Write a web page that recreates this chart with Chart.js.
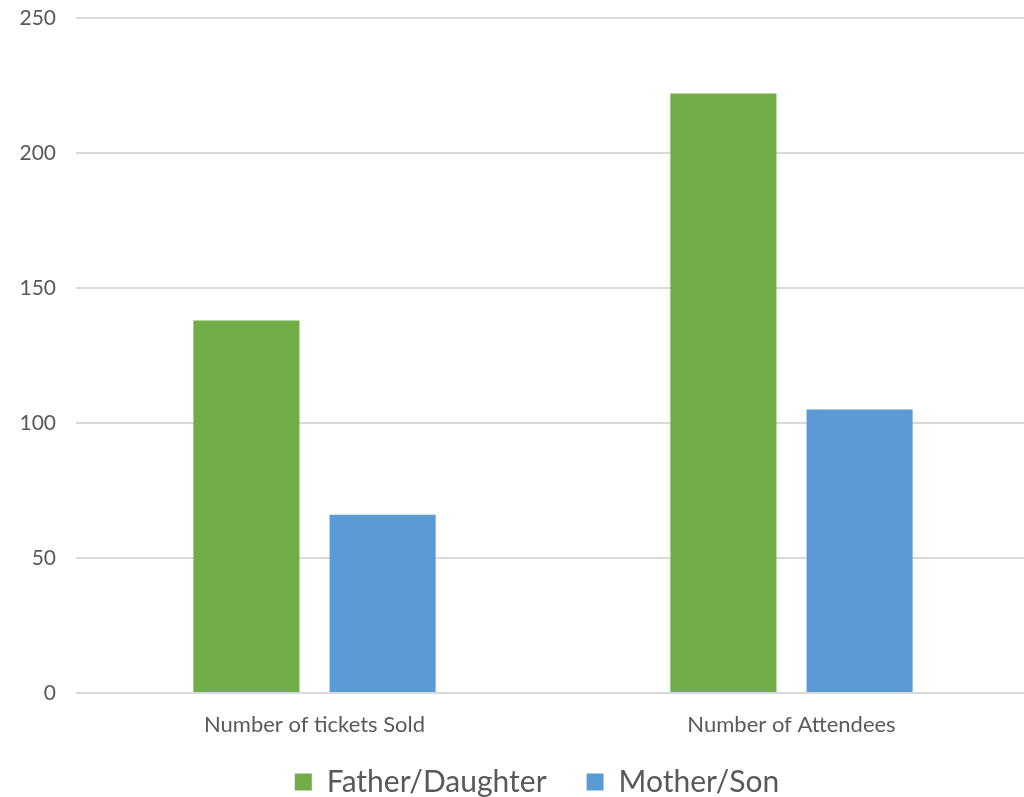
<!DOCTYPE html>
<html>
<head>
<meta charset="utf-8">
<script src="https://cdn.jsdelivr.net/npm/chart.js@4/dist/chart.umd.min.js"></script>
<style>
  html, body { margin: 0; padding: 0; background: #ffffff; overflow: hidden; }
  #wrap { position: relative; width: 1030px; height: 797px; }
</style>
</head>
<body>
<div id="wrap"><canvas id="chart"></canvas></div>
<script>
const categories = ['Number of tickets Sold', 'Number of Attendees'];
const fatherDaughter = [138, 222];
const motherSon = [66, 105];
const yTicks = [0, 50, 100, 150, 200, 250];

const FONT = "Lato, 'Open Sans', sans-serif";
const TEXT = '#595959';

// Nudge the legend block slightly right and up from its default slot.
const legendOffset = {
  id: 'legendOffset',
  afterLayout(chart) {
    const lg = chart.legend;
    if (!lg) return;
    lg.left += 22; lg.right += 22;
    lg.top -= 11; lg.bottom -= 11;
  }
};

new Chart(document.getElementById('chart'), {
  type: 'bar',
  data: {
    labels: categories,
    datasets: [
      { label: 'Father/Daughter', data: fatherDaughter, backgroundColor: '#70AD47' },
      { label: 'Mother/Son', data: motherSon, backgroundColor: '#5B9BD5' }
    ]
  },
  plugins: [legendOffset],
  options: {
    responsive: true,
    maintainAspectRatio: false,
    animation: false,
    layout: { padding: { top: 18, left: 0, right: 0, bottom: -21 } },
    categoryPercentage: 0.571,
    barPercentage: 0.779,
    plugins: {
      tooltip: { enabled: false },
      legend: {
        position: 'bottom',
        labels: {
          font: { family: FONT, size: 30 },
          color: TEXT,
          boxWidth: 17,
          boxHeight: 17,
          padding: 40
        }
      }
    },
    scales: {
      x: {
        grid: { display: false },
        border: { display: false },
        ticks: { font: { family: FONT, size: 22 }, color: TEXT, padding: 11 },
        afterFit: (s) => { s.height = 45; }
      },
      y: {
        min: 0,
        max: 250,
        afterBuildTicks: (s) => { s.ticks = yTicks.map(v => ({ value: v })); },
        grid: { color: '#D9D9D9', lineWidth: 2, drawTicks: false },
        border: { display: false },
        ticks: { font: { family: FONT, size: 21 }, color: TEXT, padding: 20 },
        afterFit: (s) => { s.width = 76; s.paddingTop = 0; s.paddingBottom = 0; }
      }
    }
  }
});
</script>
</body>
</html>
